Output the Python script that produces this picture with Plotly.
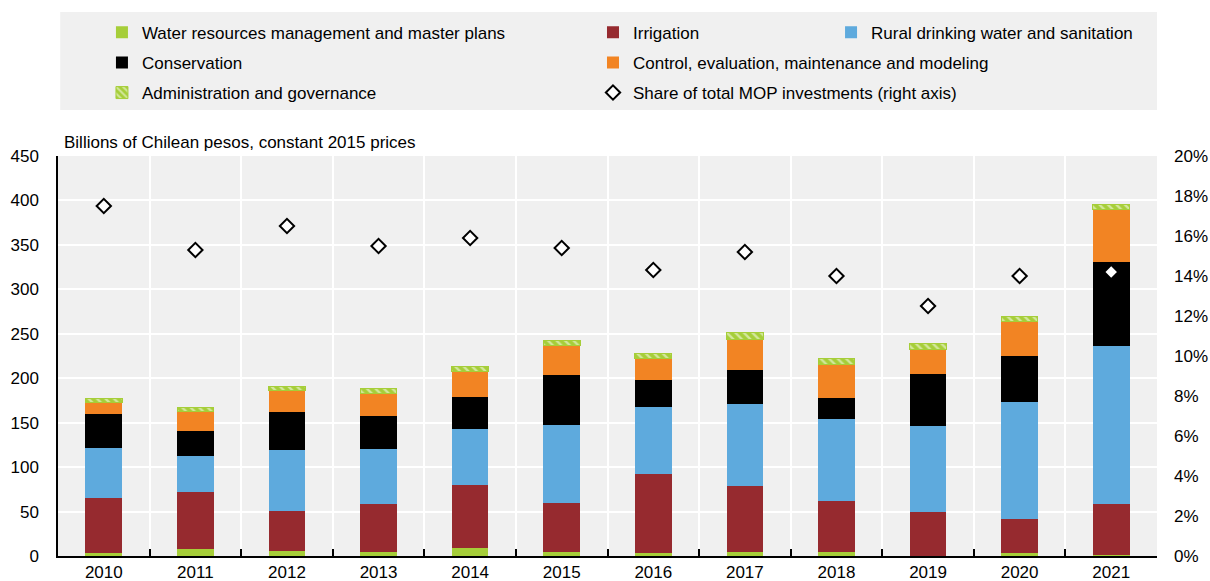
import plotly.graph_objects as go

years = ["2010", "2011", "2012", "2013", "2014", "2015",
         "2016", "2017", "2018", "2019", "2020", "2021"]

# Billions of Chilean pesos, constant 2015 prices
water_mgmt = [3.0, 8.0, 6.0, 5.0, 9.0, 5.0, 3.0, 4.5, 5.0, 0.5, 3.0, 1.5]
irrigation = [62.0, 64.5, 45.0, 53.5, 71.0, 55.0, 89.5, 74.5, 57.0, 49.5, 38.5, 56.5]
rural_water = [57.0, 40.5, 68.0, 61.4, 62.6, 87.3, 75.0, 92.0, 92.0, 96.7, 131.3, 177.7]
conservation = [38.0, 28.0, 43.0, 38.0, 36.0, 56.7, 30.0, 38.0, 24.0, 58.3, 52.0, 94.8]
control = [13.0, 21.5, 24.0, 25.0, 29.0, 33.0, 24.5, 35.0, 38.0, 27.0, 39.0, 59.1]
admin = [4.0, 4.5, 5.0, 5.0, 6.0, 6.0, 5.5, 8.0, 6.0, 6.6, 6.0, 6.1]

# Share of total MOP investments (%)
share_mop = [17.5, 15.3, 16.5, 15.5, 15.9, 15.4, 14.3, 15.2, 14.0, 12.5, 14.0, 14.2]

FONT = "Liberation Sans Narrow, Arial Narrow, Liberation Sans, Arial, sans-serif"
FS = 17
BG = "#f0f0f0"

GREEN = "#a6ce39"
RED = "#962a2f"
BLUE = "#5eaadd"
BLACK = "#000000"
ORANGE = "#f28423"

fig = go.Figure()

bar_series = [
    ("Water resources management and master plans", water_mgmt, GREEN, "legend"),
    ("Irrigation", irrigation, RED, "legend2"),
    ("Rural drinking water and sanitation", rural_water, BLUE, "legend3"),
    ("Conservation", conservation, BLACK, "legend"),
    ("Control, evaluation, maintenance and modeling", control, ORANGE, "legend2"),
]
for name, vals, color, lg in bar_series:
    fig.add_trace(go.Bar(
        x=years, y=vals, name=name, legend=lg, legendgroup=name,
        marker=dict(color=color, line=dict(width=0)),
        width=0.4,
    ))

fig.add_trace(go.Bar(
    x=years, y=admin, name="Administration and governance",
    legend="legend", legendgroup="admin",
    marker=dict(
        color=GREEN,
        line=dict(color=GREEN, width=1),
        pattern=dict(shape="\\", fgcolor="white", bgcolor=GREEN,
                     size=6, solidity=0.4),
    ),
    width=0.4,
))

fig.add_trace(go.Scatter(
    x=years, y=[v / 100 for v in share_mop],
    name="Share of total MOP investments (right axis)",
    legend="legend2", legendgroup="share",
    mode="markers", yaxis="y2",
    marker=dict(symbol="diamond", size=11, color="white",
                line=dict(color="black", width=2)),
))

# Grey band behind the legend
fig.add_shape(type="rect", xref="paper", yref="paper",
              x0=0.002, x1=1.0, y0=1.115, y1=1.36,
              fillcolor=BG, line=dict(width=0), layer="below")

legend_common = dict(
    orientation="v", bgcolor="rgba(0,0,0,0)",
    font=dict(family=FONT, size=FS, color="black"),
    traceorder="grouped", tracegroupgap=5,
    yanchor="top", xanchor="left", y=1.353,
    itemclick=False, itemdoubleclick=False,
)

fig.add_annotation(
    text="Billions of Chilean pesos, constant 2015 prices",
    xref="paper", yref="paper", x=0.004, y=1.035,
    xanchor="left", yanchor="middle", showarrow=False,
    font=dict(family=FONT, size=FS, color="black"),
)

fig.update_layout(
    width=1210, height=581,
    margin=dict(l=58, r=53, t=156, b=25, autoexpand=False),
    paper_bgcolor="white", plot_bgcolor=BG,
    barmode="stack", bargap=0.6,
    font=dict(family=FONT, size=FS, color="black"),
    legend=dict(legend_common, x=0.040),
    legend2=dict(legend_common, x=0.4868),
    legend3=dict(legend_common, x=0.7034),
    xaxis=dict(
        type="category", tickson="boundaries", automargin=False,
        range=[-0.5, len(years) - 0.5],
        ticks="inside", ticklen=7, tickcolor="black", tickwidth=1.5,
        showgrid=True, gridcolor="white", gridwidth=1.5,
        showline=True, linecolor="black", linewidth=1.5,
        tickfont=dict(family=FONT, size=FS),
    ),
    yaxis=dict(
        range=[0, 450], dtick=50, tick0=0, automargin=False,
        showgrid=True, gridcolor="white", gridwidth=1.5,
        showline=True, linecolor="black", linewidth=1.5,
        ticks="", ticklabelstandoff=14, zeroline=False,
        tickfont=dict(family=FONT, size=FS),
    ),
    yaxis2=dict(
        overlaying="y", side="right", automargin=False,
        range=[0, 0.2], dtick=0.02, tick0=0, tickformat=".0%",
        showgrid=False, showline=False, zeroline=False,
        ticks="", ticklabelstandoff=16,
        tickfont=dict(family=FONT, size=FS),
    ),
)

fig.write_html("out.html")
